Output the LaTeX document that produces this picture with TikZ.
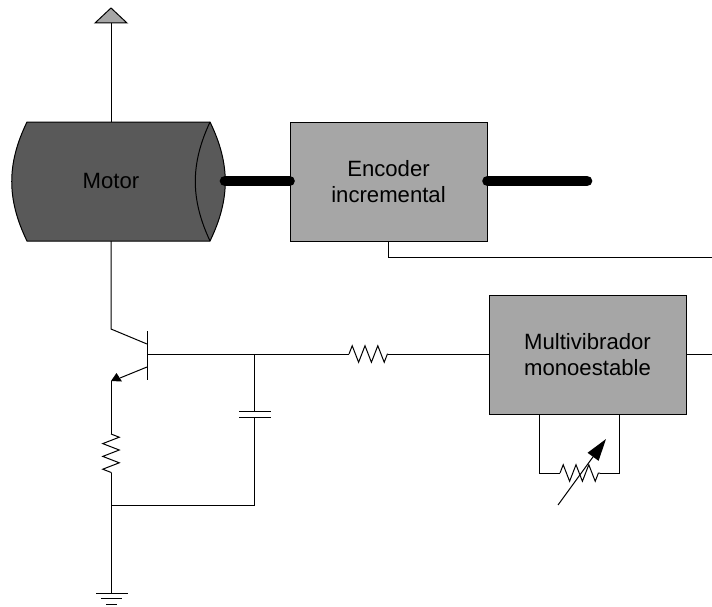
\documentclass[tikz,border=0pt]{standalone}
\usepackage{fontspec}
\setmainfont{Liberation Sans}
\usetikzlibrary{calc,arrows.meta,decorations.pathmorphing}
\definecolor{boxgray}{HTML}{A6A6A6}
\definecolor{motorgray}{HTML}{595959}
\tikzset{
  wire/.style={line width=0.75pt},
  blockbox/.style={draw,line width=0.75pt,fill=boxgray,minimum width=147.75pt,minimum height=89.25pt,align=center,
    font=\fontsize{16.6}{19.5}\selectfont},
  shaftline/.style={line width=8pt,line cap=round},
  resistor/.style={wire,decorate,decoration={zigzag,segment length=9.6pt,amplitude=6.2pt}}
}
\begin{document}
\begin{tikzpicture}[>=Latex,x=0.75pt,y=-0.75pt]
  \useasboundingbox (0,0) rectangle (712,606);
  % motor and blocks
  \coordinate (motortl) at (27,122);
  \coordinate (motortr) at (210,122);
  \coordinate (motorbr) at (210,241);
  \coordinate (motorbl) at (27,241);
  \filldraw[wire,fill=motorgray] (motortl) -- (motortr) to[bend left=26] (motorbr) -- (motorbl) to[bend left=26] cycle;
  \draw[wire] (motortr) to[bend right=25] (motorbr);
  \node (motor) at (111,181){\fontsize{16.6}{19.5}\selectfont Motor};
  \node[blockbox] (encoder) at (388.5,181.5){Encoder\\incremental};
  \node[blockbox] (multi) at (587.5,355){Multivibrador\\monoestable};
  \coordinate (shaftin) at (225,181);
  \coordinate (shaftout) at (587,181);
  \draw[shaftline] (shaftin) -- (shaftin -| encoder.west);
  \draw[shaftline] (shaftout -| encoder.east) -- (shaftout);
  \coordinate (encout) at (712,257);
  \draw[wire] (encoder.south) |- (encout);
  % supply
  \coordinate (vcc) at (111,23);
  \filldraw[wire,fill=boxgray] (95,23) -- (111,8) -- (127,23) -- cycle;
  \draw[wire] (vcc) -- (111,122);
  % transistor
  \coordinate (collector) at (111,329);
  \coordinate (emitter) at (111,381);
  \coordinate (basept) at (147,354);
  \draw[wire] (111,241) -- (collector) -- (147,344);
  \draw[wire] (147,331) -- (147,380);
  \draw[wire] (147,367) -- (120,378);
  \fill (emitter) -- (116.5,373) -- (122,381.5) -- cycle;
  % emitter resistor and ground
  \coordinate (reatop) at (111,434);
  \coordinate (reabot) at (111,473);
  \coordinate (junct) at (111,505);
  \coordinate (gnd) at (111,593);
  \draw[wire] (emitter) -- (reatop);
  \draw[resistor] (reatop) -- (reabot);
  \draw[wire] (reabot) -- (gnd);
  \draw[wire] (96,593) -- (128,593);
  \draw[wire] (101,598) -- (122,598);
  \draw[wire] (106,604) -- (117,604);
  % base line and capacitor
  \coordinate (rbin) at (349,354);
  \coordinate (rbout) at (388,354);
  \coordinate (captap) at (254,354);
  \coordinate (captop) at (254,411);
  \coordinate (capbot) at (254,417);
  \draw[wire] (basept) -- (rbin);
  \draw[resistor] (rbin) -- (rbout);
  \draw[wire] (rbout) -- (rbout -| multi.west);
  \draw[wire] (captap) -- (captop);
  \draw[wire] (239,411) -- (271,411);
  \draw[wire] (239,417) -- (271,417);
  \draw[wire] (capbot) |- (junct);
  \coordinate (multiout) at (712,354);
  \draw[wire] (multiout -| multi.east) -- (multiout);
  % variable resistor
  \coordinate (rvin) at (560,473);
  \coordinate (rvout) at (600,473);
  \draw[wire] (539,415) |- (rvin);
  \draw[resistor] (rvin) -- (rvout);
  \draw[wire] (rvout) -| (619,415);
  \coordinate (rvtail) at (558,505);
  \coordinate (rvtip) at (606,439);
  \draw[wire,-{Triangle[length=16.5pt,width=10pt]}] (rvtail) -- (rvtip);
\end{tikzpicture}
\end{document}
